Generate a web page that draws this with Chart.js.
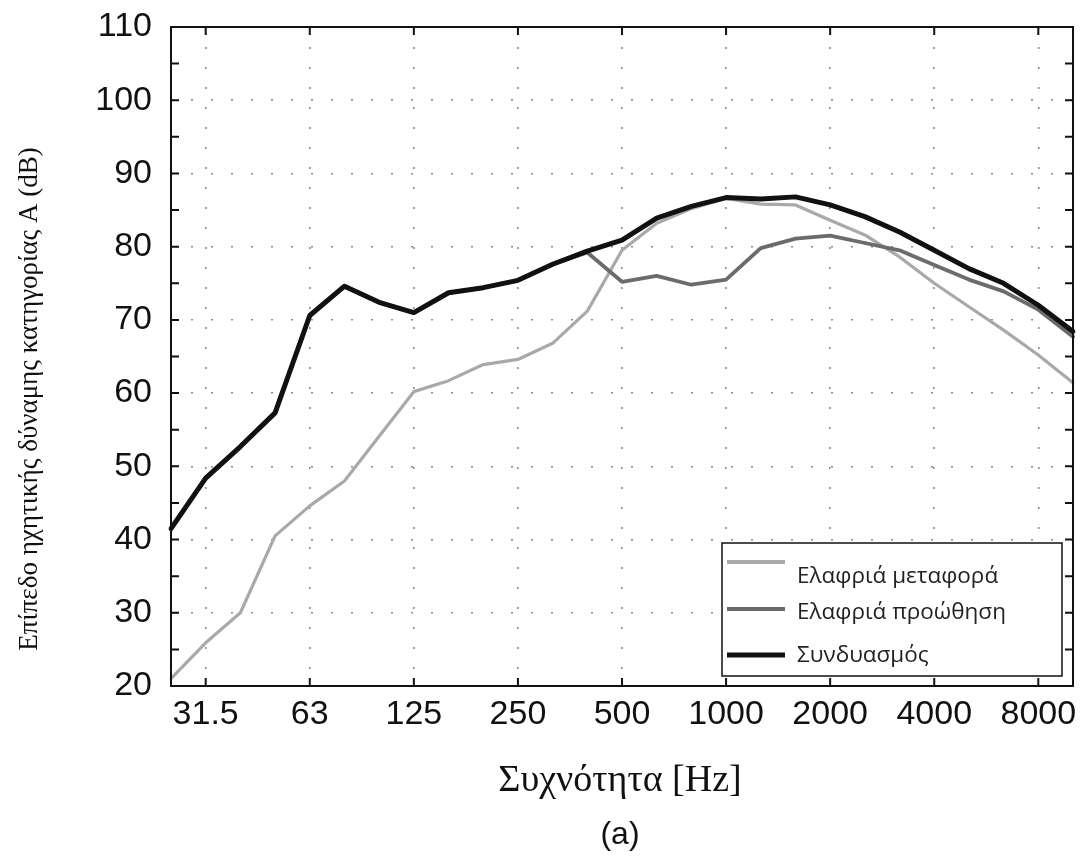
<!DOCTYPE html>
<html>
<head>
<meta charset="utf-8">
<script src="https://cdn.jsdelivr.net/npm/chart.js@4.4.1/dist/chart.umd.min.js"></script>
<style>
  html, body { margin: 0; padding: 0; background: #fff; }
  #wrap { width: 1089px; height: 864px; position: relative; }
</style>
</head>
<body>
<div id="wrap"><canvas id="chart" width="1089" height="864"></canvas></div>
<script>
// 1/3-octave band centre frequencies (Hz)
const bands = ['25', '31.5', '40', '50', '63', '80', '100', '125', '160', '200', '250', '315', '400',
  '500', '630', '800', '1000', '1250', '1600', '2000', '2500', '3150', '4000', '5000', '6300', '8000', '10000'];
const shownTicks = ['31.5', '63', '125', '250', '500', '1000', '2000', '4000', '8000'];

// A-weighted sound power level (dB)
const lightTransport = [21.0, 25.9, 30.0, 40.5, 44.6, 48.0, 54.1, 60.2, 61.7, 63.9, 64.6, 66.8, 71.2,
  79.5, 83.2, 85.2, 86.6, 85.8, 85.7, 83.6, 81.6, 78.6, 75.0, 71.8, 68.6, 65.2, 61.4];
const lightPush = [41.5, 48.4, 52.7, 57.3, 70.6, 74.6, 72.4, 71.0, 73.7, 74.4, 75.4, 77.6, 79.2,
  75.2, 76.0, 74.8, 75.5, 79.8, 81.1, 81.5, 80.5, 79.5, 77.5, 75.5, 73.9, 71.4, 67.7];
const combined = [41.5, 48.4, 52.7, 57.3, 70.6, 74.6, 72.4, 71.0, 73.7, 74.4, 75.4, 77.6, 79.4,
  80.9, 83.9, 85.5, 86.7, 86.5, 86.8, 85.7, 84.1, 82.0, 79.5, 77.0, 75.0, 72.0, 68.4];

const seriesNames = ['Ελαφριά μεταφορά', 'Ελαφριά προώθηση', 'Συνδυασμός'];
const seriesColors = ['#a9a9a9', '#6b6b6b', '#111111'];

const yTitle = 'Επίπεδο ηχητικής δύναμης κατηγορίας A (dB)';
const xTitle = 'Συχνότητα [Hz]';
const caption = '(a)';

// frame, inward ticks, titles and the boxed legend
const decorations = {
  id: 'decorations',
  afterDraw(chart) {
    const ctx = chart.ctx;
    const a = chart.chartArea;
    const xs = chart.scales.x;
    const ys = chart.scales.y;
    ctx.save();
    ctx.strokeStyle = '#111';
    ctx.lineWidth = 2;
    ctx.strokeRect(a.left, a.top, a.right - a.left, a.bottom - a.top);

    ctx.beginPath();
    for (let v = 20; v <= 110; v += 5) {
      const y = ys.getPixelForValue(v);
      ctx.moveTo(a.left, y); ctx.lineTo(a.left + 8, y);
      ctx.moveTo(a.right, y); ctx.lineTo(a.right - 8, y);
    }
    shownTicks.forEach(t => {
      const x = xs.getPixelForValue(bands.indexOf(t));
      ctx.moveTo(x, a.bottom); ctx.lineTo(x, a.bottom - 8);
      ctx.moveTo(x, a.top); ctx.lineTo(x, a.top + 8);
    });
    ctx.stroke();

    // titles
    ctx.fillStyle = '#111';
    ctx.textAlign = 'center';
    ctx.textBaseline = 'middle';
    ctx.font = "38px 'Liberation Serif', 'DejaVu Serif', serif";
    ctx.fillText(xTitle, 620, 781);
    ctx.font = "32px 'Liberation Sans', Arial, sans-serif";
    ctx.fillText(caption, 620, 835);
    ctx.save();
    ctx.translate(30, 399);
    ctx.rotate(-Math.PI / 2);
    ctx.font = "27px 'Liberation Serif', 'DejaVu Serif', serif";
    ctx.fillText(yTitle, 0, 0);
    ctx.restore();

    // legend
    const lx = 722, ly = 543, lw = 340, lh = 133;
    ctx.fillStyle = '#fff';
    ctx.fillRect(lx, ly, lw, lh);
    ctx.lineWidth = 1.5;
    ctx.strokeStyle = '#111';
    ctx.strokeRect(lx, ly, lw, lh);
    const lineY = [562, 609, 655];
    const textY = [577, 613, 656];
    const widths = [4, 4, 5];
    ctx.textAlign = 'left';
    ctx.font = "22.5px 'Open Sans', 'Noto Sans', sans-serif";
    for (let i = 0; i < 3; i++) {
      ctx.strokeStyle = seriesColors[i];
      ctx.lineWidth = widths[i];
      ctx.beginPath();
      ctx.moveTo(727, lineY[i]); ctx.lineTo(785, lineY[i]);
      ctx.stroke();
      ctx.fillStyle = '#222';
      ctx.fillText(seriesNames[i], 797, textY[i]);
    }
    ctx.restore();
  }
};

new Chart(document.getElementById('chart').getContext('2d'), {
  type: 'line',
  data: {
    labels: bands,
    datasets: [
      { label: seriesNames[0], data: lightTransport, borderColor: seriesColors[0], borderWidth: 3.2, order: 2 },
      { label: seriesNames[1], data: lightPush, borderColor: seriesColors[1], borderWidth: 3.8, order: 1 },
      { label: seriesNames[2], data: combined, borderColor: seriesColors[2], borderWidth: 5, order: 0 }
    ]
  },
  options: {
    responsive: false,
    animation: false,
    elements: { point: { radius: 0 }, line: { tension: 0, borderJoinStyle: 'round', borderCapStyle: 'round' } },
    layout: { padding: { left: 0, right: 16, top: 27, bottom: 0 } },
    plugins: { legend: { display: false }, tooltip: { enabled: false } },
    scales: {
      x: {
        type: 'category',
        offset: false,
        afterFit(scale) {
          scale.height = 178;
          scale.paddingLeft = 0;
          scale.paddingRight = 0;
        },
        grid: {
          drawTicks: false,
          lineWidth: 1.6,
          color: ctx => shownTicks.includes(bands[ctx.index]) ? '#8a8a8a' : 'rgba(0,0,0,0)'
        },
        border: { display: false, dash: [2, 18] },
        ticks: {
          autoSkip: false,
          maxRotation: 0,
          padding: 8,
          color: '#111',
          font: { family: "'Liberation Sans', Arial, sans-serif", size: 34 },
          callback(value, index) { return shownTicks.includes(bands[index]) ? bands[index] : ''; }
        }
      },
      y: {
        min: 20,
        max: 110,
        afterFit(scale) {
          scale.width = 171;
          scale.paddingTop = 0;
          scale.paddingBottom = 0;
        },
        grid: { drawTicks: false, lineWidth: 1.6, color: '#8a8a8a' },
        border: { display: false, dash: [2, 18] },
        ticks: {
          stepSize: 10,
          padding: 19,
          color: '#111',
          font: { family: "'Liberation Sans', Arial, sans-serif", size: 34 }
        }
      }
    }
  },
  plugins: [decorations]
});
</script>
</body>
</html>
